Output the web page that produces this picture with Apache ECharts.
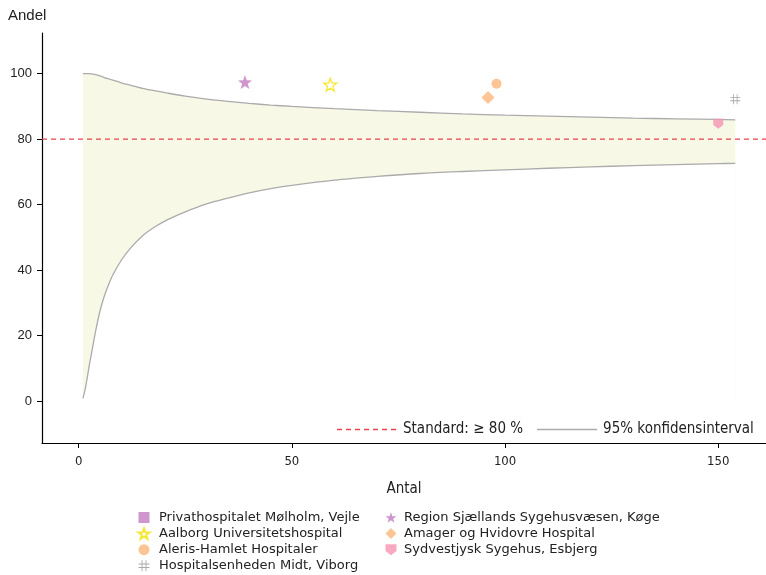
<!DOCTYPE html>
<html><head><meta charset="utf-8">
<script src="https://cdn.jsdelivr.net/npm/echarts@6/dist/echarts.min.js"></script>
<style>html,body{margin:0;padding:0;background:#fff}#c{width:766px;height:575px}</style>
</head><body><div id="c"></div>
<script>
// ---- data ----
const STANDARD = 80;
const X_TICKS = [0, 50, 100, 150];
const Y_TICKS = [0, 20, 40, 60, 80, 100];
const CI_N     = [1, 1.5, 2, 2.5, 3, 4, 5, 6, 7, 8, 10, 12, 15, 18, 21, 25, 30, 35, 40, 45, 50, 60, 70, 80, 90, 100, 110, 120, 130, 140, 150, 154];
const CI_UPPER = [100, 100, 100, 100, 99.9, 99.7, 99.3, 98.8, 98.4, 98.0, 97.2, 96.5, 95.5, 94.7, 94.0, 93.1, 92.2, 91.5, 90.9, 90.4, 90.0, 89.3, 88.7, 88.2, 87.7, 87.3, 87.0, 86.7, 86.4, 86.2, 86.0, 85.9];
const CI_LOWER = [0.8, 3.5, 7, 11, 14.5, 21.5, 27.5, 32, 35.5, 38.5, 43, 46.5, 50.5, 53.3, 55.5, 57.8, 60.2, 62, 63.6, 64.9, 65.9, 67.5, 68.6, 69.5, 70.1, 70.6, 71.1, 71.5, 71.9, 72.2, 72.5, 72.6];

const HOSPITALS = ['Privathospitalet Mølholm, Vejle', 'Aalborg Universitetshospital', 'Aleris-Hamlet Hospitaler', 'Hospitalsenheden Midt, Viborg',
                   'Region Sjællands Sygehusvæsen, Køge', 'Amager og Hvidovre Hospital', 'Sydvestjysk Sygehus, Esbjerg'];
const HOSP_N     = [null, 59, 98, 154, 39, 96, 150];
const HOSP_ANDEL = [null, 96.6, 96.9, 92.2, 97.4, 92.7, 84.7];

// ---- styles ----
const STAR = 'path://M50,0 L62.5,34.5 L99,35.5 L70,58 L80.5,93 L50,72 L19.5,93 L30,58 L1,35.5 L37.5,34.5 Z';
const HASH = 'path://M28,0 L36,0 L36,30 L64,30 L64,0 L72,0 L72,30 L100,30 L100,38 L72,38 L72,62 L100,62 L100,70 L72,70 L72,100 L64,100 L64,70 L36,70 L36,100 L28,100 L28,70 L0,70 L0,62 L28,62 L28,38 L0,38 L0,30 L28,30 Z M36,38 L36,62 L64,62 L64,38 Z';
const SHIELD = 'path://M0,0 L100,0 L100,62 L50,100 L0,62 Z';
const DASH_ICON = 'path://M0,0h5v1.4h-5z M9,0h5v1.4h-5z M18,0h5v1.4h-5z M27,0h5v1.4h-5z M36,0h5v1.4h-5z M45,0h5v1.4h-5z M54,0h5v1.4h-5z M59.9,0h0.1v1.4h-0.1z';
const LINE_ICON = 'path://M0,0h60v1.4h-60z';
const RED = '#e8434f', GREY = '#ababab', BAND = '#f7f9e6';
const STYLES = [
  {symbol: 'rect', size: 10, item: {color: '#c27cc1'}},
  {symbol: STAR, size: 13, item: {color: '#ffffff', borderColor: '#f2e400', borderWidth: 1.3}},
  {symbol: 'circle', size: 10, item: {color: '#fdb77a'}},
  {symbol: HASH, size: 10, item: {color: '#949494'}},
  {symbol: STAR, size: 14, item: {color: '#c27cc1'}},
  {symbol: 'diamond', size: 13, item: {color: '#fdb77a'}},
  {symbol: SHIELD, size: 10, item: {color: '#f594b3'}}
];

const chart = echarts.init(document.getElementById('c'), null, {renderer: 'canvas'});

const series = [];
// upper CI limit (band fill down to lower limit is obtained by covering below the lower limit)
series.push({
  name: '95% konfidensinterval', type: 'line', data: CI_N.map((n, i) => [n, CI_UPPER[i]]), color: GREY,
  symbol: 'none', smooth: 0.3, itemStyle: {color: GREY}, lineStyle: {color: GREY, width: 1.3},
  areaStyle: {color: BAND, opacity: 1}, silent: true, z: 1
});
series.push({
  name: '95% konfidensinterval', type: 'line', data: CI_N.map((n, i) => [n, CI_LOWER[i]]), color: GREY,
  symbol: 'none', smooth: 0.3, itemStyle: {color: GREY}, lineStyle: {color: GREY, width: 1.3},
  areaStyle: {color: '#ffffff', opacity: 1}, silent: true, z: 2
});
// standard line across the plot at y = STANDARD
series.push({
  name: 'Standard: ≥ 80 %', type: 'custom', silent: true, z: 3, color: RED, itemStyle: {color: RED},
  data: [[0, STANDARD]],
  renderItem: function (params, api) {
    const cs = params.coordSys;
    const y = api.coord([0, api.value(1)])[1];
    return {type: 'line', shape: {x1: cs.x, y1: y, x2: cs.x + cs.width, y2: y},
            style: {stroke: RED, lineWidth: 1.2, lineDash: [5, 4], fill: null}};
  }
});
HOSPITALS.forEach((h, i) => {
  const st = STYLES[i];
  series.push({
    name: h, type: 'scatter', symbol: st.symbol, symbolSize: st.size, itemStyle: st.item,
    data: HOSP_N[i] == null ? [] : [[HOSP_N[i], HOSP_ANDEL[i]]], z: 5
  });
});

chart.setOption({
  animation: false,
  backgroundColor: '#fff',
  title: {text: 'Andel', left: 3, top: 3, textStyle: {fontFamily: 'Liberation Sans', fontSize: 15, fontWeight: 'normal', color: '#222'}},
  grid: {left: 42, right: 0, top: 33, bottom: 132, containLabel: false},
  xAxis: {
    type: 'value', min: -8.6, max: 161.2,
    name: 'Antal', nameLocation: 'middle', nameGap: 39,
    nameTextStyle: {fontFamily: 'DejaVu Sans Condensed', fontSize: 15, color: '#222'},
    axisLine: {show: true, onZero: false, lineStyle: {color: '#000', width: 1.2}},
    axisTick: {show: true, length: 5, lineStyle: {color: '#000'}, customValues: X_TICKS},
    axisLabel: {customValues: X_TICKS, fontFamily: 'DejaVu Sans Condensed', fontSize: 13, color: '#222', margin: 12},
    splitLine: {show: false}
  },
  yAxis: {
    type: 'value', min: -12.8, max: 112.4,
    axisLine: {show: true, onZero: false, lineStyle: {color: '#000', width: 1.2}},
    axisTick: {show: true, length: 5, lineStyle: {color: '#000'}, customValues: Y_TICKS},
    axisLabel: {customValues: Y_TICKS, fontFamily: 'Liberation Sans', fontSize: 13, color: '#222', margin: 10},
    splitLine: {show: false}
  },
  legend: [
    {data: [{name: 'Standard: ≥ 80 %', icon: DASH_ICON, itemStyle: {color: RED}},
            {name: '95% konfidensinterval', icon: LINE_ICON, itemStyle: {color: GREY}}],
     left: 337, top: 422, padding: 0, itemWidth: 60, itemHeight: 1.4, itemGap: 14,
     textStyle: {fontFamily: 'DejaVu Sans Condensed', fontSize: 15, color: '#222', padding: [0, 0, 0, 1]}, selectedMode: false},
    {data: HOSPITALS.slice(0, 4), orient: 'vertical', left: 137.5, top: 511, padding: 0, height: 64, itemWidth: 11, itemHeight: 11, itemGap: 3.1,
     textStyle: {fontFamily: 'DejaVu Sans', fontSize: 13, color: '#222', padding: [0, 0, 0, 4.5]}, selectedMode: false},
    {data: HOSPITALS.slice(4), orient: 'vertical', left: 385.5, top: 511, padding: 0, height: 64, itemWidth: 11, itemHeight: 11, itemGap: 3.1,
     textStyle: {fontFamily: 'DejaVu Sans', fontSize: 13, color: '#222', padding: [0, 0, 0, 2.5]}, selectedMode: false}
  ],
  series: series
});
</script></body></html>
